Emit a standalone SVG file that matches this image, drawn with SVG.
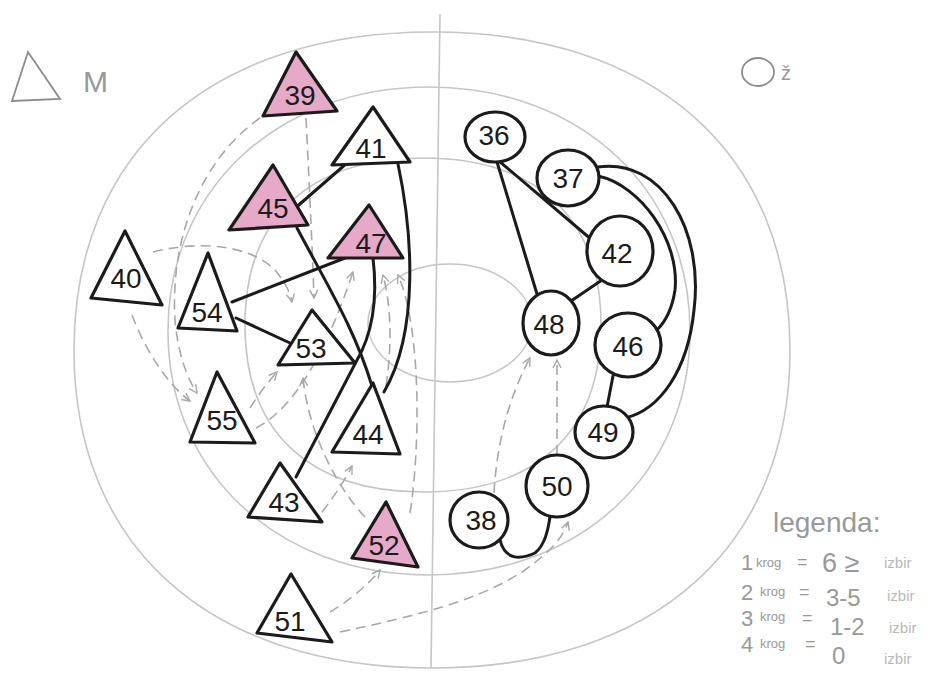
<svg xmlns="http://www.w3.org/2000/svg" width="946" height="673" viewBox="0 0 946 673">
<defs>
<style>
.ring{fill:none;stroke:#c6c6c6;stroke-width:1.6}
.dash{fill:none;stroke:#a8a8a8;stroke-width:1.6;stroke-dasharray:10 6;marker-end:url(#ah)}
.solid{fill:none;stroke:#1b1b1b;stroke-width:3;stroke-linecap:round}
.tri{fill:#ffffff;stroke:#1b1b1b;stroke-width:3.2;stroke-linejoin:round}
.pink{fill:#e6a9c8}
.circ{fill:#ffffff;stroke:#1b1b1b;stroke-width:3.2}
.lbl{font-family:"Liberation Sans","DejaVu Sans",sans-serif;font-size:28px;fill:#1b1b1b;text-anchor:middle}
.hand{font-family:"Liberation Sans","DejaVu Sans",sans-serif;fill:#999999}
.izb{font-family:"Liberation Sans","DejaVu Sans",sans-serif;fill:#b8b8b8;font-size:15px}
</style>
<marker id="ah" viewBox="0 0 10 10" refX="9" refY="5" markerWidth="10" markerHeight="10" orient="auto" markerUnits="userSpaceOnUse">
<path d="M1,1 L9,5 L1,9" fill="none" stroke="#a8a8a8" stroke-width="1.4"/>
</marker>
</defs>
<rect width="946" height="673" fill="#ffffff"/>

<g id="background">
<path class="ring" d="M432,32 C654,32 790,153 790,350 C790,547 654,668 432,668 C210,668 74,547 74,350 C74,153 210,32 432,32 Z"/>
<path class="ring" d="M429,87 C580,87 690,189 690,331 C690,473 580,575 429,575 C278,575 168,473 168,331 C168,189 278,87 429,87 Z"/>
<path class="ring" d="M423,158 C537,158 601,218 601,325 C601,432 537,492 423,492 C309,492 245,432 245,325 C245,218 309,158 423,158 Z"/>
<ellipse class="ring" cx="450" cy="323" rx="82" ry="59"/>
<path class="ring" d="M440,14 L431,668"/>
</g>

<g id="title-m">
<polygon points="28,52 12,101 60,99" fill="none" stroke="#8c8c8c" stroke-width="1.8"/>
<text class="hand" x="83" y="92" font-size="30">M</text>
</g>
<g id="title-z">
<ellipse cx="758" cy="72" rx="16" ry="14" fill="none" stroke="#8c8c8c" stroke-width="1.8"/>
<text class="hand" x="781" y="80" font-size="20">ž</text>
</g>

<g id="connectors">
<path class="dash" d="M260,118 C200,160 170,240 175,320 C178,355 188,380 197,393"/>
<path class="dash" d="M306,118 C309,180 312,240 314,298"/>
<path class="dash" d="M153,252 C200,240 250,245 275,270 C285,282 290,292 292,302"/>
<path class="dash" d="M132,315 C145,350 168,385 190,401"/>
<path class="dash" d="M250,408 C258,395 268,382 277,372"/>
<path class="dash" d="M256,428 C300,405 330,340 353,272"/>
<path class="dash" d="M365,517 C335,485 308,430 303,378"/>
<path class="dash" d="M410,513 C420,450 422,330 398,275"/>
<path class="dash" d="M386,386 C393,340 390,300 383,275"/>
<path class="dash" d="M322,512 C335,495 345,480 352,466"/>
<path class="dash" d="M330,612 C350,600 368,585 380,570"/>
<path class="dash" d="M340,632 C420,615 480,600 525,570 C548,553 562,540 568,522"/>
<path class="dash" d="M494,493 C497,440 510,395 530,358"/>
<path class="dash" d="M557,455 L557,360"/>
<path class="solid" d="M293,210 L347,163"/>
<path class="solid" d="M297,228 C330,290 355,330 372,386"/>
<path class="solid" d="M232,302 L345,258"/>
<path class="solid" d="M236,318 L290,343"/>
<path class="solid" d="M373,258 C378,300 372,335 356,362 L296,477"/>
<path class="solid" d="M398,164 C412,230 420,330 384,392"/>
<path class="solid" d="M499,161 L592,240"/>
<path class="solid" d="M497,162 L537,294"/>
<path class="solid" d="M602,280 L571,301"/>
<path class="solid" d="M598,176 C640,185 680,240 675,290 C672,310 665,322 657,330"/>
<path class="solid" d="M598,167 C662,158 704,230 694,310 C688,370 660,410 625,418"/>
<path class="solid" d="M613,376 L607,407"/>
<path class="solid" d="M500,540 C505,560 520,560 535,553 C545,545 548,530 550,517"/>
</g>

<g id="n39"><polygon class="tri pink" points="296,52 263,116 337,111"/><text class="lbl" x="300" y="105">39</text></g>
<g id="n41"><polygon class="tri" points="373,107 332,165 410,162"/><text class="lbl" x="371" y="158">41</text></g>
<g id="n45"><polygon class="tri pink" points="273,165 229,230 308,225"/><text class="lbl" x="273" y="218">45</text></g>
<g id="n47"><polygon class="tri pink" points="369,205 328,258 403,258"/><text class="lbl" x="371" y="253">47</text></g>
<g id="n40"><polygon class="tri" points="125,231 91,298 162,305"/><text class="lbl" x="126" y="288">40</text></g>
<g id="n54"><polygon class="tri" points="208,253 178,328 237,331"/><text class="lbl" x="207" y="322">54</text></g>
<g id="n53"><polygon class="tri" points="312,310 278,365 355,363"/><text class="lbl" x="311" y="358">53</text></g>
<g id="n55"><polygon class="tri" points="217,372 190,442 255,443"/><text class="lbl" x="222" y="430">55</text></g>
<g id="n44"><polygon class="tri" points="373,383 332,452 400,454"/><text class="lbl" x="368" y="444">44</text></g>
<g id="n43"><polygon class="tri" points="280,463 248,517 322,522"/><text class="lbl" x="284" y="512">43</text></g>
<g id="n52"><polygon class="tri pink" points="386,502 352,558 418,567"/><text class="lbl" x="384" y="555">52</text></g>
<g id="n51"><polygon class="tri" points="291,574 257,633 332,642"/><text class="lbl" x="290" y="631">51</text></g>

<g id="n36"><ellipse class="circ" cx="495" cy="137" rx="30" ry="25"/><text class="lbl" x="494" y="145">36</text></g>
<g id="n37"><ellipse class="circ pink" cx="568" cy="178" rx="31" ry="28"/><text class="lbl" x="568" y="188">37</text></g>
<g id="n42"><ellipse class="circ" cx="620" cy="251" rx="33" ry="35"/><text class="lbl" x="617" y="263">42</text></g>
<g id="n48"><ellipse class="circ" cx="551" cy="323" rx="28" ry="32"/><text class="lbl" x="549" y="334">48</text></g>
<g id="n46"><ellipse class="circ" cx="628" cy="345" rx="33" ry="32"/><text class="lbl" x="628" y="356">46</text></g>
<g id="n49"><ellipse class="circ pink" cx="604" cy="432" rx="29" ry="26"/><text class="lbl" x="603" y="442">49</text></g>
<g id="n50"><ellipse class="circ pink" cx="557" cy="486" rx="31" ry="31"/><text class="lbl" x="557" y="496">50</text></g>
<g id="n38"><ellipse class="circ" cx="479" cy="520" rx="29" ry="28"/><text class="lbl" x="481" y="530">38</text></g>

<g id="legend">
<text class="hand" x="773" y="532" font-size="28">legenda:</text>
<text class="hand" x="741" y="570" font-size="22">1</text><text class="hand" x="756" y="567" font-size="13">krog</text><text class="hand" x="797" y="568" font-size="18">=</text><text class="hand" x="822" y="572" font-size="27">6 ≥</text><text class="izb" x="884" y="568">izbir</text>
<text class="hand" x="741" y="600" font-size="22">2</text><text class="hand" x="760" y="596" font-size="13">krog</text><text class="hand" x="799" y="598" font-size="18">=</text><text class="hand" x="826" y="606" font-size="24">3-5</text><text class="izb" x="887" y="601">izbir</text>
<text class="hand" x="741" y="626" font-size="22">3</text><text class="hand" x="760" y="621" font-size="13">krog</text><text class="hand" x="802" y="624" font-size="18">=</text><text class="hand" x="830" y="635" font-size="24">1-2</text><text class="izb" x="889" y="633">izbir</text>
<text class="hand" x="741" y="652" font-size="22">4</text><text class="hand" x="760" y="648" font-size="13">krog</text><text class="hand" x="805" y="650" font-size="18">=</text><text class="hand" x="832" y="664" font-size="24">0</text><text class="izb" x="884" y="664">izbir</text>
</g>
</svg>
